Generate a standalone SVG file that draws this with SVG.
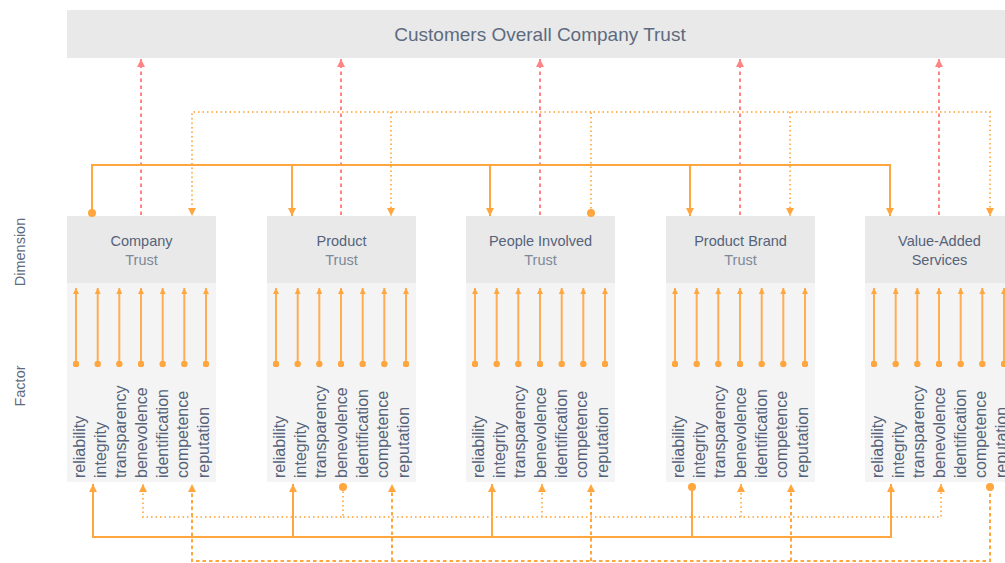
<svg xmlns="http://www.w3.org/2000/svg" width="1005" height="563" viewBox="0 0 1005 563">
<style>
text{font-family:"Liberation Sans",Arial,sans-serif;}
.title{font-size:19px;fill:#5d6b80;}
.hd{font-size:14.5px;fill:#55637a;}
.hl{font-size:14.5px;fill:#7d8898;}
.fac{font-size:16px;fill:#55637a;}
.side{font-size:14.5px;fill:#5d6b80;}
.hdr{fill:#e9e9e9;}
.body{fill:#f4f4f4;}
.solid{stroke:#ffa63f;stroke-width:2;fill:none;}
.dot{stroke:#ffb65e;stroke-width:2;fill:none;stroke-dasharray:1.5 3;}
.dash{stroke:#ffa63f;stroke-width:2;fill:none;stroke-dasharray:3.5 3;}
.red{stroke:#ff8585;stroke-width:2;fill:none;stroke-dasharray:3.5 3.5;}
.inner{stroke:#ffad55;stroke-width:2;fill:none;}
</style>
<defs>
<marker id="ao" viewBox="0 0 10 10" refX="10" refY="5" markerWidth="8" markerHeight="8" markerUnits="userSpaceOnUse" orient="auto"><path d="M0,0L10,5L0,10z" fill="#ffa63f"/></marker>
<marker id="ar" viewBox="0 0 10 10" refX="10" refY="5" markerWidth="8" markerHeight="8" markerUnits="userSpaceOnUse" orient="auto"><path d="M0,0L10,5L0,10z" fill="#ff8585"/></marker>
<marker id="ai" viewBox="0 0 10 10" refX="10" refY="5" markerWidth="7" markerHeight="6" markerUnits="userSpaceOnUse" orient="auto"><path d="M0,0L10,5L0,10z" fill="#ffa63f"/></marker>
<marker id="co" viewBox="0 0 10 10" refX="5" refY="5" markerWidth="8" markerHeight="8" markerUnits="userSpaceOnUse"><circle cx="5" cy="5" r="5" fill="#ffa63f"/></marker>
<marker id="ci" viewBox="0 0 10 10" refX="5" refY="5" markerWidth="6.5" markerHeight="6.5" markerUnits="userSpaceOnUse"><circle cx="5" cy="5" r="5" fill="#ffa63f"/></marker>
</defs>

<g id="title">
<rect x="67" y="10" width="938" height="48" class="hdr"/>
<text x="540" y="41" class="title" text-anchor="middle">Customers Overall Company Trust</text>
</g>

<g id="labels">
<text class="side" transform="translate(25,252) rotate(-90)" text-anchor="middle">Dimension</text>
<text class="side" transform="translate(25,386) rotate(-90)" text-anchor="middle">Factor</text>
</g>

<g id="node-company">
<rect x="67" y="216" width="149" height="67" class="hdr"/>
<rect x="67" y="283" width="149" height="199" class="body"/>
<text x="141.5" y="246" class="hd" text-anchor="middle">Company</text>
<text x="141.5" y="265" class="hl" text-anchor="middle">Trust</text>
<g class="inner">
<line x1="76" y1="364" x2="76" y2="288" marker-start="url(#ci)" marker-end="url(#ai)"/>
<line x1="97.7" y1="364" x2="97.7" y2="288" marker-start="url(#ci)" marker-end="url(#ai)"/>
<line x1="119.3" y1="364" x2="119.3" y2="288" marker-start="url(#ci)" marker-end="url(#ai)"/>
<line x1="141" y1="364" x2="141" y2="288" marker-start="url(#ci)" marker-end="url(#ai)"/>
<line x1="162.7" y1="364" x2="162.7" y2="288" marker-start="url(#ci)" marker-end="url(#ai)"/>
<line x1="184.3" y1="364" x2="184.3" y2="288" marker-start="url(#ci)" marker-end="url(#ai)"/>
<line x1="206" y1="364" x2="206" y2="288" marker-start="url(#ci)" marker-end="url(#ai)"/>
</g>
<g class="fac">
<text transform="translate(85,478) rotate(-90)">reliability</text>
<text transform="translate(105.7,478) rotate(-90)">integrity</text>
<text transform="translate(126.3,478) rotate(-90)">transparency</text>
<text transform="translate(147,478) rotate(-90)">benevolence</text>
<text transform="translate(167.7,478) rotate(-90)">identification</text>
<text transform="translate(188.3,478) rotate(-90)">competence</text>
<text transform="translate(209,478) rotate(-90)">reputation</text>
</g>
</g>

<g id="node-product">
<rect x="267" y="216" width="149" height="67" class="hdr"/>
<rect x="267" y="283" width="149" height="199" class="body"/>
<text x="341.5" y="246" class="hd" text-anchor="middle">Product</text>
<text x="341.5" y="265" class="hl" text-anchor="middle">Trust</text>
<g class="inner">
<line x1="276" y1="364" x2="276" y2="288" marker-start="url(#ci)" marker-end="url(#ai)"/>
<line x1="297.7" y1="364" x2="297.7" y2="288" marker-start="url(#ci)" marker-end="url(#ai)"/>
<line x1="319.3" y1="364" x2="319.3" y2="288" marker-start="url(#ci)" marker-end="url(#ai)"/>
<line x1="341" y1="364" x2="341" y2="288" marker-start="url(#ci)" marker-end="url(#ai)"/>
<line x1="362.7" y1="364" x2="362.7" y2="288" marker-start="url(#ci)" marker-end="url(#ai)"/>
<line x1="384.3" y1="364" x2="384.3" y2="288" marker-start="url(#ci)" marker-end="url(#ai)"/>
<line x1="406" y1="364" x2="406" y2="288" marker-start="url(#ci)" marker-end="url(#ai)"/>
</g>
<g class="fac">
<text transform="translate(285,478) rotate(-90)">reliability</text>
<text transform="translate(305.7,478) rotate(-90)">integrity</text>
<text transform="translate(326.3,478) rotate(-90)">transparency</text>
<text transform="translate(347,478) rotate(-90)">benevolence</text>
<text transform="translate(367.7,478) rotate(-90)">identification</text>
<text transform="translate(388.3,478) rotate(-90)">competence</text>
<text transform="translate(409,478) rotate(-90)">reputation</text>
</g>
</g>

<g id="node-people">
<rect x="466" y="216" width="149" height="67" class="hdr"/>
<rect x="466" y="283" width="149" height="199" class="body"/>
<text x="540.5" y="246" class="hd" text-anchor="middle">People Involved</text>
<text x="540.5" y="265" class="hl" text-anchor="middle">Trust</text>
<g class="inner">
<line x1="475" y1="364" x2="475" y2="288" marker-start="url(#ci)" marker-end="url(#ai)"/>
<line x1="496.7" y1="364" x2="496.7" y2="288" marker-start="url(#ci)" marker-end="url(#ai)"/>
<line x1="518.3" y1="364" x2="518.3" y2="288" marker-start="url(#ci)" marker-end="url(#ai)"/>
<line x1="540" y1="364" x2="540" y2="288" marker-start="url(#ci)" marker-end="url(#ai)"/>
<line x1="561.7" y1="364" x2="561.7" y2="288" marker-start="url(#ci)" marker-end="url(#ai)"/>
<line x1="583.3" y1="364" x2="583.3" y2="288" marker-start="url(#ci)" marker-end="url(#ai)"/>
<line x1="605" y1="364" x2="605" y2="288" marker-start="url(#ci)" marker-end="url(#ai)"/>
</g>
<g class="fac">
<text transform="translate(484,478) rotate(-90)">reliability</text>
<text transform="translate(504.7,478) rotate(-90)">integrity</text>
<text transform="translate(525.3,478) rotate(-90)">transparency</text>
<text transform="translate(546,478) rotate(-90)">benevolence</text>
<text transform="translate(566.7,478) rotate(-90)">identification</text>
<text transform="translate(587.3,478) rotate(-90)">competence</text>
<text transform="translate(608,478) rotate(-90)">reputation</text>
</g>
</g>

<g id="node-brand">
<rect x="666" y="216" width="149" height="67" class="hdr"/>
<rect x="666" y="283" width="149" height="199" class="body"/>
<text x="740.5" y="246" class="hd" text-anchor="middle">Product Brand</text>
<text x="740.5" y="265" class="hl" text-anchor="middle">Trust</text>
<g class="inner">
<line x1="675" y1="364" x2="675" y2="288" marker-start="url(#ci)" marker-end="url(#ai)"/>
<line x1="696.7" y1="364" x2="696.7" y2="288" marker-start="url(#ci)" marker-end="url(#ai)"/>
<line x1="718.3" y1="364" x2="718.3" y2="288" marker-start="url(#ci)" marker-end="url(#ai)"/>
<line x1="740" y1="364" x2="740" y2="288" marker-start="url(#ci)" marker-end="url(#ai)"/>
<line x1="761.7" y1="364" x2="761.7" y2="288" marker-start="url(#ci)" marker-end="url(#ai)"/>
<line x1="783.3" y1="364" x2="783.3" y2="288" marker-start="url(#ci)" marker-end="url(#ai)"/>
<line x1="805" y1="364" x2="805" y2="288" marker-start="url(#ci)" marker-end="url(#ai)"/>
</g>
<g class="fac">
<text transform="translate(684,478) rotate(-90)">reliability</text>
<text transform="translate(704.7,478) rotate(-90)">integrity</text>
<text transform="translate(725.3,478) rotate(-90)">transparency</text>
<text transform="translate(746,478) rotate(-90)">benevolence</text>
<text transform="translate(766.7,478) rotate(-90)">identification</text>
<text transform="translate(787.3,478) rotate(-90)">competence</text>
<text transform="translate(808,478) rotate(-90)">reputation</text>
</g>
</g>

<g id="node-value">
<rect x="865" y="216" width="149" height="67" class="hdr"/>
<rect x="865" y="283" width="149" height="199" class="body"/>
<text x="939.5" y="246" class="hd" text-anchor="middle">Value-Added</text>
<text x="939.5" y="265" class="hd" text-anchor="middle">Services</text>
<g class="inner">
<line x1="874" y1="364" x2="874" y2="288" marker-start="url(#ci)" marker-end="url(#ai)"/>
<line x1="895.7" y1="364" x2="895.7" y2="288" marker-start="url(#ci)" marker-end="url(#ai)"/>
<line x1="917.3" y1="364" x2="917.3" y2="288" marker-start="url(#ci)" marker-end="url(#ai)"/>
<line x1="939" y1="364" x2="939" y2="288" marker-start="url(#ci)" marker-end="url(#ai)"/>
<line x1="960.7" y1="364" x2="960.7" y2="288" marker-start="url(#ci)" marker-end="url(#ai)"/>
<line x1="982.3" y1="364" x2="982.3" y2="288" marker-start="url(#ci)" marker-end="url(#ai)"/>
<line x1="1004" y1="364" x2="1004" y2="288" marker-start="url(#ci)" marker-end="url(#ai)"/>
</g>
<g class="fac">
<text transform="translate(883,478) rotate(-90)">reliability</text>
<text transform="translate(903.7,478) rotate(-90)">integrity</text>
<text transform="translate(924.3,478) rotate(-90)">transparency</text>
<text transform="translate(945,478) rotate(-90)">benevolence</text>
<text transform="translate(965.7,478) rotate(-90)">identification</text>
<text transform="translate(986.3,478) rotate(-90)">competence</text>
<text transform="translate(1007,478) rotate(-90)">reputation</text>
</g>
</g>

<g id="connectors">
<line class="red" x1="141" y1="215" x2="141" y2="59" marker-end="url(#ar)"/>
<line class="red" x1="341" y1="215" x2="341" y2="59" marker-end="url(#ar)"/>
<line class="red" x1="540" y1="215" x2="540" y2="59" marker-end="url(#ar)"/>
<line class="red" x1="740" y1="215" x2="740" y2="59" marker-end="url(#ar)"/>
<line class="red" x1="939" y1="215" x2="939" y2="59" marker-end="url(#ar)"/>
<path class="solid" d="M92,213V165H890V216" marker-start="url(#co)" marker-end="url(#ao)"/>
<path class="solid" d="M292,165V216" marker-end="url(#ao)"/>
<path class="solid" d="M490,165V216" marker-end="url(#ao)"/>
<path class="solid" d="M690,165V216" marker-end="url(#ao)"/>
<path class="dot" d="M591,213V112H990V216" marker-start="url(#co)" marker-end="url(#ao)"/>
<path class="dot" d="M591,112H192V216" marker-end="url(#ao)"/>
<path class="dot" d="M391,112V216" marker-end="url(#ao)"/>
<path class="dot" d="M790,112V216" marker-end="url(#ao)"/>
<path class="solid" d="M692,487V537H93V484" marker-start="url(#co)" marker-end="url(#ao)"/>
<path class="solid" d="M692,537H891V484" marker-end="url(#ao)"/>
<path class="solid" d="M293,537V484" marker-end="url(#ao)"/>
<path class="solid" d="M492,537V484" marker-end="url(#ao)"/>
<path class="dot" d="M343,487V517H143V484" marker-start="url(#co)" marker-end="url(#ao)"/>
<path class="dot" d="M343,517H941V484" marker-end="url(#ao)"/>
<path class="dot" d="M542,517V484" marker-end="url(#ao)"/>
<path class="dot" d="M741,517V484" marker-end="url(#ao)"/>
<path class="dash" d="M990,487V561H192V484" marker-start="url(#co)" marker-end="url(#ao)"/>
<path class="dash" d="M392,561V484" marker-end="url(#ao)"/>
<path class="dash" d="M591,561V484" marker-end="url(#ao)"/>
<path class="dash" d="M791,561V484" marker-end="url(#ao)"/>
</g>
</svg>
